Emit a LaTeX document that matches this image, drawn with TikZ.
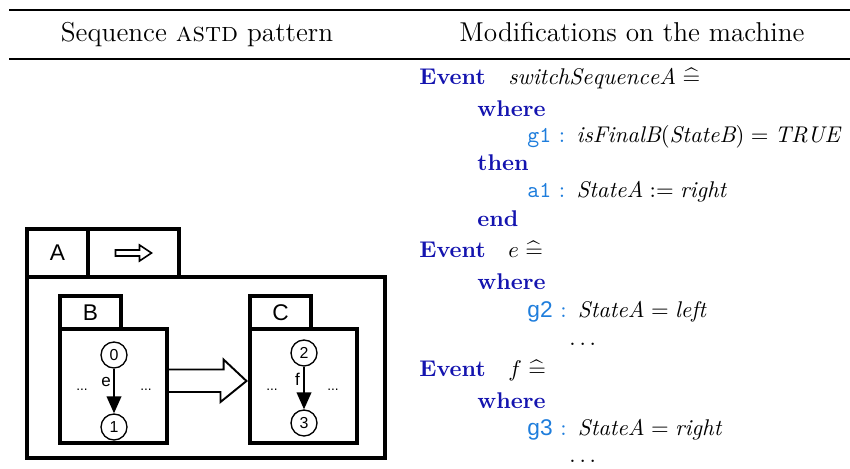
\documentclass[tikz,border=0pt]{standalone}
\usepackage{amsmath}
\usepackage{amssymb}
\usepackage{xcolor}
\usepackage{fontspec}
\setsansfont{Liberation Sans}
\usepackage{tikz}
\usetikzlibrary{arrows.meta}
\definecolor{evblue}{RGB}{20, 20, 175}
\definecolor{lblblue}{RGB}{30, 125, 220}
\def\pxu{0.44pt}
\newcommand{\kw}[1]{{\color{evblue}\bfseries #1}}
\newcommand{\glbl}[1]{{\color{lblblue}#1\ :}\hspace{5pt}}
\tikzset{>=latex}
\tikzset{
  astdbox/.style = {draw, line width=1.35pt, inner sep=0pt, font=\sffamily\fontsize{10}{12}\selectfont},
  state/.style = {circle, draw, line width=0.6pt, inner sep=0pt, minimum size=26*\pxu, font=\sffamily\fontsize{7}{8}\selectfont},
  trans/.style = {-{Triangle[length=7.5pt,width=6.5pt]}, line width=0.7pt},
  dots/.style = {font=\sffamily\fontsize{6}{7}\selectfont, inner sep=0pt, anchor=base},
  evline/.style = {anchor=base west, inner sep=0pt},
  hollow/.style = {draw, line width=0.85pt, line join=miter},
}

\begin{document}
\begin{tikzpicture}[x=\pxu, y=-\pxu]
  \useasboundingbox (0, 0) rectangle (850, 468);
  % table head
  \draw[line width=0.8pt] (9, 10) -- (850, 10);
  \draw[line width=0.5pt] (9, 59) -- (850, 59);
  \node[anchor=base, inner sep=0pt] (hleft) at (197, 42){\large Sequence \textsc{astd} pattern};
  \node[anchor=base, inner sep=0pt] (hright) at (632, 42){\large Modifications on the machine};

  % sequence astd
  \node[astdbox, minimum width=61*\pxu, minimum height=48*\pxu] (Atab) at (57.5, 253){A};
  \node[astdbox, minimum width=91*\pxu, minimum height=48*\pxu] (Stab) at (133.5, 253){};
  \draw[hollow, line width=0.7pt] (Stab.center) ++(-18, -3) -- ++(24, 0) -- ++(0, -5) -- ++(12, 8)
    -- ++(-12, 8) -- ++(0, -5) -- ++(-24, 0) -- cycle;
  \node[astdbox, minimum width=358*\pxu, minimum height=181*\pxu] (Abody) at (206, 367.5){};

  \node[astdbox, minimum width=61*\pxu, minimum height=33*\pxu] (Btab) at (90.5, 312.5){B};
  \node[astdbox, minimum width=107*\pxu, minimum height=114*\pxu] (Bbody) at (113.5, 386){};
  \node[astdbox, minimum width=61*\pxu, minimum height=33*\pxu] (Ctab) at (280.5, 312.5){C};
  \node[astdbox, minimum width=107*\pxu, minimum height=114*\pxu] (Cbody) at (303.5, 386){};

  \node[state] (s0) at (114, 355){0};
  \node[state] (s1) at (114, 427){1};
  \node[state] (s2) at (304, 353){2};
  \node[state] (s3) at (304, 423){3};
  \draw[trans] (s0) -- node[pos=0.3, left, inner sep=1pt, font=\sffamily\fontsize{7.5}{8}\selectfont] (le){e} (s1);
  \draw[trans] (s2) -- node[pos=0.3, left, inner sep=1.5pt, font=\sffamily\fontsize{7.5}{8}\selectfont] (lf){f} (s3);
  \node[dots] (dB1) at (82, 390){...};
  \node[dots] (dB2) at (146, 390){...};
  \node[dots] (dC1) at (272, 390){...};
  \node[dots] (dC2) at (333, 390){...};

  \coordinate (seqtail) at ([yshift=5*\pxu]Bbody.east);
  \coordinate (seqtip) at ([xshift=-2*\pxu, yshift=5*\pxu]Cbody.west);
  \draw[hollow] (seqtail) ++(0, -11.5) -- ++(55, 0) -- ++(0, -10) -- (seqtip)
    -- ++(-26, 21) -- ++(0, -10) -- ++(-55, 0);

  % machine
  \node[evline] (ev1) at (419, 85){\kw{Event}\quad$\mathit{switchSequenceA}\mathrel{\widehat{=}}$};
  \node[evline] (wh1) at (477, 117){\kw{where}};
  \node[evline] (g1) at (527, 143){\glbl{\texttt{g1}}$\mathit{isFinalB}(\mathit{StateB}) = \mathit{TRUE}$};
  \node[evline] (th1) at (477, 171){\kw{then}};
  \node[evline] (a1) at (527, 197){\glbl{\texttt{a1}}$\mathit{StateA} := \mathit{right}$};
  \node[evline] (en1) at (477, 226){\kw{end}};
  \node[evline] (ev2) at (419, 257){\kw{Event}\quad$e\mathrel{\widehat{=}}$};
  \node[evline] (wh2) at (477, 289){\kw{where}};
  \node[evline] (g2) at (527, 317){\glbl{\textsf{g2}}$\mathit{StateA} = \mathit{left}$};
  \node[evline] (dd2) at (569, 345){$\ldots$};
  \node[evline] (ev3) at (419, 376){\kw{Event}\quad$f\mathrel{\widehat{=}}$};
  \node[evline] (wh3) at (477, 408){\kw{where}};
  \node[evline] (g3) at (527, 435){\glbl{\textsf{g3}}$\mathit{StateA} = \mathit{right}$};
  \node[evline] (dd3) at (569, 462){$\ldots$};
\end{tikzpicture}
\end{document}
